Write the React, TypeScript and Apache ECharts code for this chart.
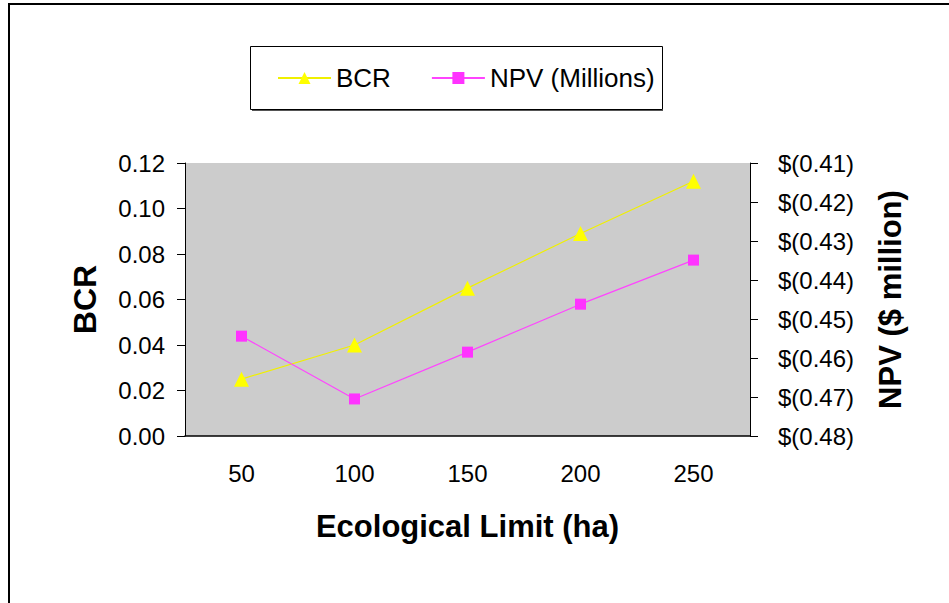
import React, { useEffect, useRef } from "react";
import * as echarts from "echarts";

const categories = ["50", "100", "150", "200", "250"];
const bcrValues = [0.025, 0.04, 0.065, 0.089, 0.112];
const npvValues = [-0.4544, -0.4705, -0.4585, -0.4462, -0.4349];

const FONT = "'Liberation Sans', Arial, sans-serif";

export default function App() {
  const ref = useRef<HTMLDivElement>(null);
  useEffect(() => {
    document.body.style.margin = "0";
    const chart = echarts.init(ref.current!, null, { renderer: "svg" });
    chart.setOption({
      animation: false,
      backgroundColor: "#ffffff",
      textStyle: { fontFamily: FONT },
      graphic: [
        {
          type: "rect",
          shape: { x: 9, y: 4, width: 1000, height: 700 },
          style: { fill: "none", stroke: "#000", lineWidth: 2 },
          silent: true,
        },
        {
          type: "rect",
          shape: { x: 250.5, y: 46.5, width: 412, height: 63 },
          style: { fill: "#fff", stroke: "#000", lineWidth: 1 },
          silent: true,
          z: 0,
        },
        {
          type: "rect",
          shape: { x: 252, y: 110, width: 411, height: 1 },
          style: { fill: "#555" },
          silent: true,
        },
      ],
      legend: {
        top: 60,
        left: 272,
        itemGap: 40,
        itemWidth: 53,
        itemHeight: 15,
        textStyle: { fontSize: 26, color: "#000", fontFamily: FONT },
        data: ["BCR", "NPV (Millions)"],
        z: 10,
      },
      grid: { left: 185, top: 163, width: 565, height: 273, show: true, backgroundColor: "#cccccc", borderWidth: 0 },
      xAxis: {
        type: "category",
        data: categories,
        boundaryGap: true,
        name: "Ecological Limit (ha)",
        nameLocation: "middle",
        nameGap: 75,
        nameTextStyle: { fontSize: 31, fontWeight: "bold", color: "#000", fontFamily: FONT },
        axisLine: { lineStyle: { color: "#000", width: 1.5 } },
        axisTick: { length: 9, lineStyle: { color: "#000" } },
        axisLabel: { fontSize: 24, color: "#000", margin: 25 },
        splitLine: { show: false },
      },
      yAxis: [
        {
          type: "value",
          min: 0,
          max: 0.12,
          interval: 0.02,
          name: "BCR",
          nameLocation: "middle",
          nameGap: 84,
          nameTextStyle: { fontSize: 32, fontWeight: "bold", color: "#000", fontFamily: FONT },
          axisLine: { show: true, lineStyle: { color: "#000" } },
          axisTick: { show: true, length: 8, lineStyle: { color: "#000" } },
          axisLabel: { fontSize: 24, color: "#000", margin: 20, formatter: (v: number) => v.toFixed(2) },
          splitLine: { show: false },
        },
        {
          type: "value",
          min: -0.48,
          max: -0.41,
          interval: 0.01,
          position: "right",
          name: "NPV ($ million)",
          nameLocation: "middle",
          nameGap: 125,
          nameRotate: 90,
          nameTextStyle: { fontSize: 31, fontWeight: "bold", color: "#000", fontFamily: FONT },
          axisLine: { show: true, lineStyle: { color: "#000" } },
          axisTick: { show: true, length: 8, lineStyle: { color: "#000" } },
          axisLabel: {
            fontSize: 24,
            color: "#000",
            margin: 28,
            formatter: (v: number) => "$(" + Math.abs(v).toFixed(2) + ")",
          },
          splitLine: { show: false },
        },
      ],
      series: [
        {
          name: "BCR",
          type: "line",
          data: bcrValues,
          yAxisIndex: 0,
          symbol: "triangle",
          symbolSize: 15,
          itemStyle: { color: "#ffff00" },
          lineStyle: { color: "#f0f000", width: 1.2 },
        },
        {
          name: "NPV (Millions)",
          type: "line",
          data: npvValues,
          yAxisIndex: 1,
          symbol: "rect",
          symbolSize: 11,
          itemStyle: { color: "#ff33ff" },
          lineStyle: { color: "#ff44ff", width: 1.2 },
        },
      ],
    });
    return () => chart.dispose();
  }, []);
  return <div ref={ref} style={{ width: 949, height: 603, position: "absolute", left: 0, top: 0 }} />;
}
